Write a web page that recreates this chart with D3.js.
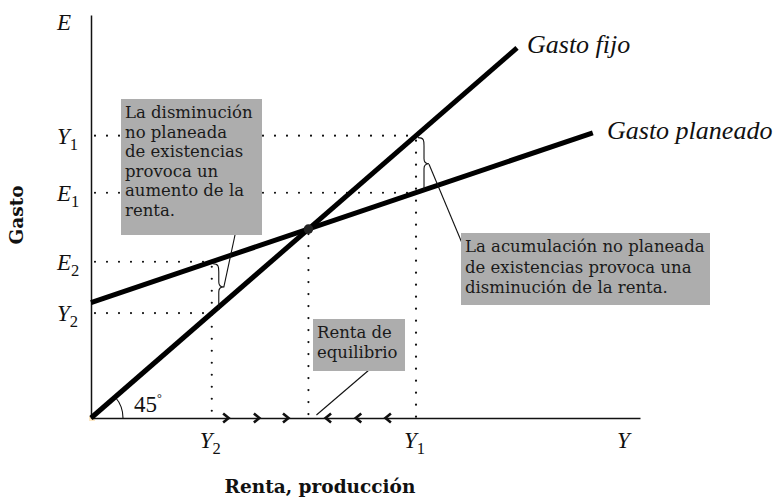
<!DOCTYPE html>
<html>
<head>
<meta charset="utf-8">
<script src="https://cdn.jsdelivr.net/npm/d3@7"></script>
<style>
  body { margin: 0; background: #fff; }
  .math { font-family: "Liberation Serif", "DejaVu Serif", serif; font-style: italic; fill: #111; }
  .note { font-family: "DejaVu Serif", serif; font-size: 16.5px; fill: #1a1a1a; }
  .title { font-family: "DejaVu Serif", serif; font-weight: bold; font-size: 18.5px; fill: #111; }
</style>
</head>
<body>
<script>
// Gasto fijo (45 grados) y gasto planeado, en unidades de renta
var fixedLine = [[0, 0], [77.6, 77.6]];
var plannedLine = [[0, 24.2], [91.4, 59.8]];
var plannedIntercept = 24.2, plannedSlope = 0.389;

// niveles de renta marcados en el eje
var incomeNames = ["Y", "Y"];
var incomeSubs = ["1", "2"];
var incomeValues = [59.2, 22.0];

// flechas sobre el eje: hacia la derecha y hacia la izquierda
var arrowsRight = [24.8, 30.4, 35.7];
var arrowsLeft = [43.0, 48.5, 53.9];

var width = 775, height = 498;

var x = d3.scaleLinear().domain([0, 100]).range([91, 640]);
var y = d3.scaleLinear().domain([0, 84.5]).range([418, 15]);

function planned(v) { return plannedIntercept + plannedSlope * v; }

var Y1 = incomeValues[0], Y2 = incomeValues[1];
var E1 = planned(Y1), E2 = planned(Y2);
var Yeq = plannedIntercept / (1 - plannedSlope);

var svg = d3.select("body").append("svg")
    .attr("width", width)
    .attr("height", height);

// pequeña marca en el origen
svg.append("rect")
    .attr("x", x(0) - 2).attr("y", y(0) - 2)
    .attr("width", 6).attr("height", 5)
    .attr("fill", "#fde8c6");

// puntos guía
var dotted = [
  [[0, Y1], [Y1, Y1]],
  [[0, E1], [Y1, E1]],
  [[0, E2], [Y2, E2]],
  [[0, Y2], [Y2, Y2]],
  [[Y1, Y1], [Y1, 0]],
  [[Yeq, Yeq], [Yeq, 0]],
  [[Y2, E2], [Y2, 0]]
];

svg.selectAll(".dot-line")
    .data(dotted)
  .enter().append("line")
    .attr("class", "dot-line")
    .attr("x1", function(d) { return x(d[0][0]) + (d[0][1] === d[1][1] ? 4 : 0); })
    .attr("y1", function(d) { return y(d[0][1]) + (d[0][0] === d[1][0] ? 5 : 0); })
    .attr("x2", function(d) { return x(d[1][0]); })
    .attr("y2", function(d) { return y(d[1][1]); })
    .attr("stroke", "#111")
    .attr("stroke-width", 2.2)
    .attr("stroke-linecap", "round")
    .attr("stroke-dasharray", "0 12");

// ejes
svg.append("g")
    .attr("transform", "translate(0," + y(0) + ")")
    .call(d3.axisBottom(x).tickValues([]).tickSizeOuter(0))
    .select(".domain").attr("stroke", "#111").attr("stroke-width", 1.5);

svg.append("g")
    .attr("transform", "translate(" + x(0) + ",0)")
    .call(d3.axisLeft(y).tickValues([]).tickSizeOuter(0))
    .select(".domain").attr("stroke", "#111").attr("stroke-width", 1.5);

// arco de 45 grados
var arc = d3.arc()
    .innerRadius(32).outerRadius(32)
    .startAngle(Math.PI / 2 - Math.atan2(y(0) - y(fixedLine[1][1]), x(fixedLine[1][0]) - x(0)))
    .endAngle(Math.PI / 2);
svg.append("path")
    .attr("transform", "translate(" + x(0) + "," + y(0) + ")")
    .attr("d", arc())
    .attr("fill", "none")
    .attr("stroke", "#111")
    .attr("stroke-width", 1.1);

svg.append("text")
    .attr("x", 134).attr("y", 412)
    .style("font-family", "'Liberation Serif', serif")
    .style("font-size", "23px")
    .style("fill", "#111")
    .text("45")
  .append("tspan")
    .attr("dy", -10)
    .style("font-size", "12px")
    .text("°");

// líneas de gasto
var line = d3.line()
    .x(function(d) { return x(d[0]); })
    .y(function(d) { return y(d[1]); });

[fixedLine, plannedLine].forEach(function(pts) {
  svg.append("path")
      .datum(pts)
      .attr("d", line)
      .attr("fill", "none")
      .attr("stroke", "#000")
      .attr("stroke-width", 5);
});

svg.append("circle")
    .attr("cx", x(Yeq)).attr("cy", y(Yeq))
    .attr("r", 4.8)
    .attr("fill", "#222");

// flechas en el eje horizontal
svg.selectAll(".arr-r")
    .data(arrowsRight)
  .enter().append("path")
    .attr("class", "arr-r")
    .attr("transform", function(d) { return "translate(" + x(d) + "," + y(0) + ")"; })
    .attr("d", "M-4,-4.5L1.5,0L-4,4.5")
    .attr("fill", "none").attr("stroke", "#111").attr("stroke-width", 2.6);

svg.selectAll(".arr-l")
    .data(arrowsLeft)
  .enter().append("path")
    .attr("class", "arr-l")
    .attr("transform", function(d) { return "translate(" + x(d) + "," + y(0) + ")"; })
    .attr("d", "M4,-4.5L-1.5,0L4,4.5")
    .attr("fill", "none").attr("stroke", "#111").attr("stroke-width", 2.6);

// llaves
function brace(xp, top, bottom) {
  var mid = (top + bottom) / 2;
  return "M" + xp + "," + top +
    " C" + (xp + 6) + "," + top + " " + (xp + 6) + "," + (top + 3) + " " + (xp + 6) + "," + (top + 8) +
    " L" + (xp + 6) + "," + (mid - 5) +
    " C" + (xp + 6) + "," + (mid - 1) + " " + (xp + 8) + "," + mid + " " + (xp + 11) + "," + mid +
    " C" + (xp + 8) + "," + mid + " " + (xp + 6) + "," + (mid + 1) + " " + (xp + 6) + "," + (mid + 5) +
    " L" + (xp + 6) + "," + bottom;
}

svg.append("path")
    .attr("d", brace(x(Y1) + 2, y(Y1) + 2, y(E1) - 3))
    .attr("fill", "none").attr("stroke", "#111").attr("stroke-width", 1.1);
svg.append("path")
    .attr("d", brace(x(Y2) + 1, y(E2) + 2, y(Y2) - 3))
    .attr("fill", "none").attr("stroke", "#111").attr("stroke-width", 1.1);

// líneas de llamada
var leaders = [
  [[x(Y1) + 13, (y(Y1) + y(E1)) / 2], [462, 243]],
  [[x(Y2) + 12, (y(E2) + y(Y2)) / 2], [235, 235]],
  [[x(Yeq) + 8, y(0) - 3], [369, 370]]
];
svg.selectAll(".leader")
    .data(leaders)
  .enter().append("line")
    .attr("class", "leader")
    .attr("x1", function(d) { return d[0][0]; })
    .attr("y1", function(d) { return d[0][1]; })
    .attr("x2", function(d) { return d[1][0]; })
    .attr("y2", function(d) { return d[1][1]; })
    .attr("stroke", "#111").attr("stroke-width", 1.1);

// cuadros de texto
var boxes = [
  { x: 121, y: 99, w: 141, h: 136, lh: 19.5, lines: ["La disminución", "no planeada", "de existencias", "provoca un", "aumento de la", "renta."] },
  { x: 461, y: 233, w: 249, h: 72, lh: 20.5, lines: ["La acumulación no planeada", "de existencias provoca una", "disminución de la renta."] },
  { x: 313, y: 319, w: 92, h: 52, lh: 20, lines: ["Renta de", "equilibrio"] }
];

boxes.forEach(function(b) {
  svg.append("rect")
      .attr("x", b.x).attr("y", b.y)
      .attr("width", b.w).attr("height", b.h)
      .attr("fill", "#adadad");
  var t = svg.append("text").attr("class", "note");
  b.lines.forEach(function(s, i) {
    t.append("tspan")
        .attr("x", b.x + 4)
        .attr("y", b.y + 19 + i * b.lh)
        .text(s);
  });
});

// etiquetas de los ejes
function mathLabel(xp, yp, main, sub, size) {
  var t = svg.append("text")
      .attr("class", "math")
      .attr("x", xp).attr("y", yp)
      .style("font-size", size + "px");
  t.append("tspan").text(main);
  if (sub) {
    t.append("tspan")
        .attr("dy", 6)
        .style("font-style", "normal")
        .style("font-size", (size * 0.72) + "px")
        .text(sub);
  }
  return t;
}

mathLabel(57, 30, "E", null, 23);
mathLabel(57, y(Y1) + 8, "Y", "1", 23);
mathLabel(57, y(E1) + 8, "E", "1", 23);
mathLabel(57, y(E2) + 8, "E", "2", 23);
mathLabel(57, y(Y2) + 8, "Y", "2", 23);

incomeValues.forEach(function(v, i) {
  mathLabel(x(v) - 12, 448, incomeNames[i], incomeSubs[i], 23);
});
mathLabel(617, 448, "Y", null, 23);

mathLabel(527, 53, "Gasto fijo", null, 26);
mathLabel(607, 139, "Gasto planeado", null, 26);

svg.append("text")
    .attr("class", "title")
    .attr("transform", "translate(23,215) rotate(-90)")
    .attr("text-anchor", "middle")
    .text("Gasto");

svg.append("text")
    .attr("class", "title")
    .attr("x", 320).attr("y", 493)
    .attr("text-anchor", "middle")
    .text("Renta, producción");
</script>
</body>
</html>
